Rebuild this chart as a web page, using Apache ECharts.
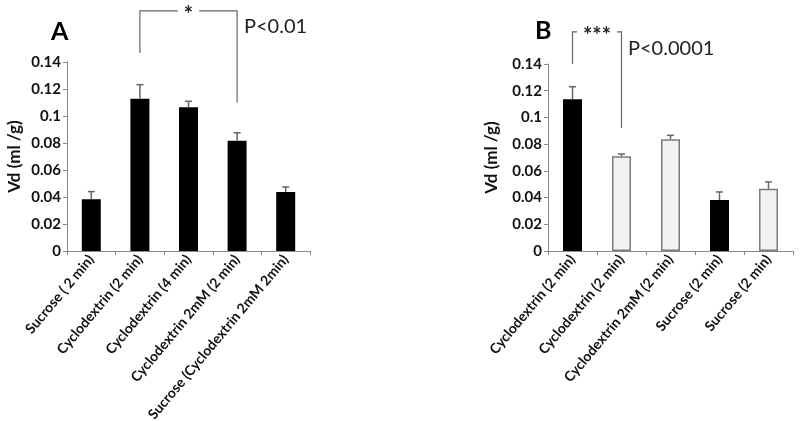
<!DOCTYPE html>
<html>
<head>
<meta charset="utf-8">
<script src="https://cdn.jsdelivr.net/npm/echarts@6/dist/echarts.min.js"></script>
<style>html,body{margin:0;padding:0;background:#fff}#c{width:800px;height:421px}</style>
</head>
<body>
<div id="c"></div>
<script>
// ---- data ----
const catsA = ['Sucrose ( 2 min)', 'Cyclodextrin (2 min)', 'Cyclodextrin (4 min)', 'Cyclodextrin 2mM (2 min)', 'Sucrose (Cyclodextrin 2mM 2min)'];
const valsA = [0.0383, 0.1128, 0.1064, 0.0817, 0.0437];
const errA  = [0.0057, 0.0104, 0.0045, 0.0059, 0.0037];

const catsB = ['Cyclodextrin (2 min)', 'Cyclodextrin (2 min)', 'Cyclodextrin 2mM (2 min)', 'Sucrose (2 min)', 'Sucrose (2 min)'];
const valsB = [0.1136, 0.0709, 0.0836, 0.0382, 0.0466];
const errB  = [0.0094, 0.0017, 0.0030, 0.0060, 0.0051];

const yTicks = [0, 0.02, 0.04, 0.06, 0.08, 0.1, 0.12, 0.14];

// significance brackets: [fromCat, toCat, topValue, leftBottomValue, rightBottomValue]
const bracketA = [1, 3, 0.1778, 0.1467, 0.1100];
const bracketB = [0, 1, 0.1640, 0.1400, 0.0920];
const starsA = '*';
const starsB = '***';
const pA = 'P<0.01';
const pB = 'P<0.0001';

// ---- chart ----
const FONT = 'Lato, "Open Sans", sans-serif';
const chart = echarts.init(document.getElementById('c'), null, {renderer: 'canvas'});

function xAxis(cats, gi) {
  return {
    type: 'category', gridIndex: gi, data: cats,
    axisLine: {lineStyle: {color: '#8a8a8a', width: 1}},
    axisTick: {show: true, inside: false, length: 4, alignWithLabel: false, lineStyle: {color: '#8a8a8a'}},
    axisLabel: {rotate: 50, interval: 0, margin: 6, color: '#111', fontFamily: FONT, fontWeight: 'bold', fontSize: 14, hideOverlap: false}
  };
}
function yAxis(gi, gap) {
  return {
    type: 'value', gridIndex: gi, min: 0, max: 0.14, interval: 0.02,
    name: 'Vd (ml /g)', nameLocation: 'middle', nameGap: gap, nameRotate: 90,
    nameTextStyle: {fontFamily: FONT, fontWeight: 'bold', fontSize: 17, color: '#111'},
    splitLine: {show: false},
    axisLine: {show: true, lineStyle: {color: '#8a8a8a', width: 1}},
    axisTick: {show: true, length: 4, lineStyle: {color: '#8a8a8a'}},
    axisLabel: {margin: 6, color: '#111', fontFamily: FONT, fontWeight: 'bold', fontSize: 15,
      formatter: v => { const t = yTicks.find(x => Math.abs(x - v) < 1e-9); return t === undefined ? '' : String(+t.toFixed(2)); }}
  };
}

function errSeries(vals, errs, gi) {
  return {
    type: 'custom', xAxisIndex: gi, yAxisIndex: gi, z: 5,
    data: vals.map((v, i) => [i, v, errs[i]]),
    encode: {x: 0, y: 1},
    renderItem: (params, api) => {
      const x = api.value(0), v = api.value(1), e = api.value(2);
      const p0 = api.coord([x, v]);
      const p1 = api.coord([x, v + e]);
      const st = {stroke: '#666', lineWidth: 1.5};
      return {type: 'group', children: [
        {type: 'line', shape: {x1: p0[0], y1: p0[1], x2: p1[0], y2: p1[1]}, style: st},
        {type: 'line', shape: {x1: p1[0] - 3.5, y1: p1[1], x2: p1[0] + 3.5, y2: p1[1]}, style: st}
      ]};
    }
  };
}

function bracketSeries(b, stars, gi) {
  return {
    type: 'custom', xAxisIndex: gi, yAxisIndex: gi, z: 6, clip: false, silent: true,
    data: [b],
    encode: {x: [0, 1], y: [2, 3, 4]},
    renderItem: (params, api) => {
      const a = api.value(0), c = api.value(1);
      const top = api.value(2), lb = api.value(3), rb = api.value(4);
      const pTL = api.coord([a, top]), pTR = api.coord([c, top]);
      const pLB = api.coord([a, lb]), pRB = api.coord([c, rb]);
      const st = {stroke: '#666', lineWidth: 1.2, fill: null};
      return {type: 'group', children: [
        {type: 'polyline', shape: {points: [pLB, pTL, pTR, pRB]}, style: st},
        {type: 'text', x: (pTL[0] + pTR[0]) / 2, y: pTL[1] + 4, z2: 10,
          style: {text: stars, fontFamily: FONT, fontWeight: 'bold', fontSize: 22, fill: '#222',
            align: 'center', verticalAlign: 'middle', backgroundColor: '#fff', padding: [0, 6, 0, 6]}}
      ]};
    }
  };
}

const option = {
  animation: false,
  backgroundColor: '#fff',
  grid: [
    {left: 67, right: 490, top: 62, bottom: 170, containLabel: false, outerBoundsMode: 'none'},
    {left: 548, right: 7, top: 64, bottom: 170, containLabel: false, outerBoundsMode: 'none'}
  ],
  xAxis: [xAxis(catsA, 0), xAxis(catsB, 1)],
  yAxis: [yAxis(0, 44), yAxis(1, 48)],
  series: [
    {type: 'bar', xAxisIndex: 0, yAxisIndex: 0, data: valsA, barWidth: 19,
      itemStyle: {color: '#000', borderColor: '#000', borderWidth: 0}},
    errSeries(valsA, errA, 0),
    bracketSeries(bracketA, starsA, 0),
    {type: 'bar', xAxisIndex: 1, yAxisIndex: 1, barWidth: 19,
      data: valsB.map((v, i) => ({value: v, itemStyle: (i === 0 || i === 3)
        ? {color: '#000', borderColor: '#000', borderWidth: 0}
        : {color: '#f2f2f2', borderColor: '#7a7a7a', borderWidth: 1.5}}))},
    errSeries(valsB, errB, 1),
    bracketSeries(bracketB, starsB, 1)
  ],
  graphic: [
    {type: 'text', left: 51, top: 19, style: {text: 'A', fontFamily: FONT, fontWeight: 'bold', fontSize: 25, fill: '#000'}},
    {type: 'text', left: 535, top: 18, style: {text: 'B', fontFamily: FONT, fontWeight: 'bold', fontSize: 25, fill: '#000'}},
    {type: 'text', left: 244, top: 17, style: {text: pA, fontFamily: FONT, fontSize: 20, fill: '#222'}},
    {type: 'text', left: 628, top: 39, style: {text: pB, fontFamily: FONT, fontSize: 20, fill: '#222'}}
  ]
};
chart.setOption(option);
</script>
</body>
</html>
